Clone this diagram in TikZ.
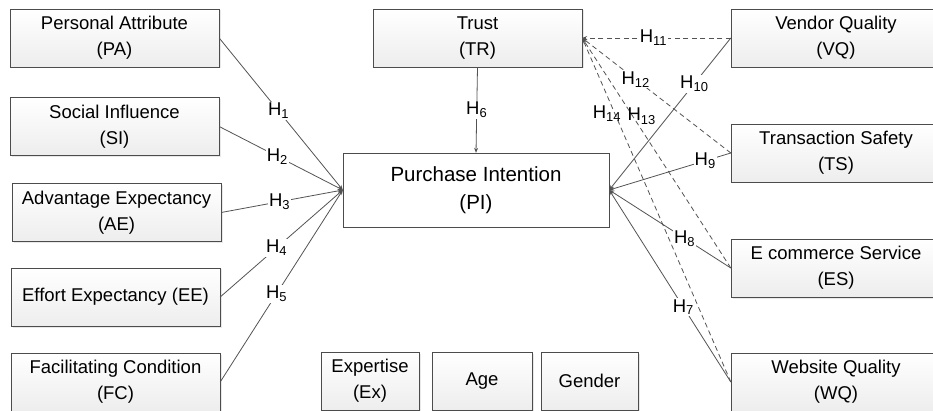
\documentclass[tikz,border=0pt]{standalone}
\usepackage{fontspec}
\setmainfont{Liberation Sans}
\usetikzlibrary{arrows.meta,shadows}

\tikzset{
  box/.style={draw=gray!60!black, top color=white, bottom color=gray!14,
    drop shadow={shadow xshift=1.5pt,shadow yshift=-1.5pt,fill=gray!35},
    inner sep=0pt, minimum height=58pt, align=center,
    font=\fontsize{18.5}{26}\selectfont},
  mainbox/.style={draw=gray!60!black, fill=white, inner sep=0pt,
    minimum width=266pt, minimum height=74pt, align=center,
    font=\fontsize{20.5}{28}\selectfont},
  link/.style={draw=gray!65!black, line width=0.8pt,
    -{Stealth[length=5pt,width=4pt]}},
  trustlink/.style={link, dash pattern=on 5pt off 3.5pt},
  hyp/.style={fill=white, inner sep=1pt, font=\fontsize{18.5}{20}\selectfont}
}

\begin{document}
\begin{tikzpicture}[x=1pt,y=-1pt]
\useasboundingbox (0,0) rectangle (933,411);

% left column
\node[box,minimum width=209pt] (PA) at (114.5,38) {Personal Attribute\\(PA)};
\node[box,minimum width=209pt] (SI) at (114.5,126.5) {Social Influence\\(SI)};
\node[box,minimum width=209pt] (AE) at (116.5,212.5) {Advantage Expectancy\\(AE)};
\node[box,minimum width=209pt] (EE) at (115.5,297) {Effort Expectancy (EE)};
\node[box,minimum width=209pt] (FC) at (115.5,382) {Facilitating Condition\\(FC)};

% middle
\node[box,minimum width=209pt] (TR) at (477.5,38) {Trust\\(TR)};
\node[mainbox] (PI) at (476,190) {Purchase Intention\\(PI)};
\node[box,minimum width=98pt] (Ex) at (370,381) {Expertise\\(Ex)};
\node[box,minimum width=100pt] (Age) at (482,381) {Age};
\node[box,minimum width=97pt] (Gen) at (589.5,381) {Gender};

% right column
\node[box,minimum width=210pt] (VQ) at (836,38) {Vendor Quality\\(VQ)};
\node[box,minimum width=210pt] (TS) at (836,153) {Transaction Safety\\(TS)};
\node[box,minimum width=210pt] (ES) at (836,268) {E commerce Service\\(ES)};
\node[box,minimum width=210pt] (WQ) at (836,382) {Website Quality\\(WQ)};

% moderated paths to trust
\draw[trustlink] (VQ.west) -- node[hyp,pos=0.52]{H\textsubscript{11}} (TR.east);
\draw[trustlink] (TS.west) -- node[hyp,pos=0.64]{H\textsubscript{12}} (TR.east);
\draw[trustlink] (ES.west) -- node[hyp,pos=0.66,xshift=9pt,fill=none]{H\textsubscript{13}} (TR.east);
\draw[trustlink] (WQ.west) -- node[hyp,pos=0.78,xshift=-8pt,fill=none]{H\textsubscript{14}} (TR.east);

% direct paths
\draw[link] (PA.east) -- node[hyp,pos=0.48]{H\textsubscript{1}} (PI.west);
\draw[link] (SI.east) -- node[hyp,pos=0.47]{H\textsubscript{2}} (PI.west);
\draw[link] (AE.east) -- node[hyp,pos=0.48]{H\textsubscript{3}} (PI.west);
\draw[link] (EE.east) -- node[hyp,pos=0.46]{H\textsubscript{4}} (PI.west);
\draw[link] (FC.east) -- node[hyp,pos=0.46]{H\textsubscript{5}} (PI.west);
\draw[link] (TR.south) -- node[hyp,pos=0.5]{H\textsubscript{6}} (PI.north);
\draw[link] (WQ.west) -- node[hyp,pos=0.39]{H\textsubscript{7}} (PI.east);
\draw[link] (ES.west) -- node[hyp,pos=0.38]{H\textsubscript{8}} (PI.east);
\draw[link] (TS.west) -- node[hyp,pos=0.21]{H\textsubscript{9}} (PI.east);
\draw[link] (VQ.west) -- node[hyp,pos=0.3]{H\textsubscript{10}} (PI.east);

\end{tikzpicture}
\end{document}
